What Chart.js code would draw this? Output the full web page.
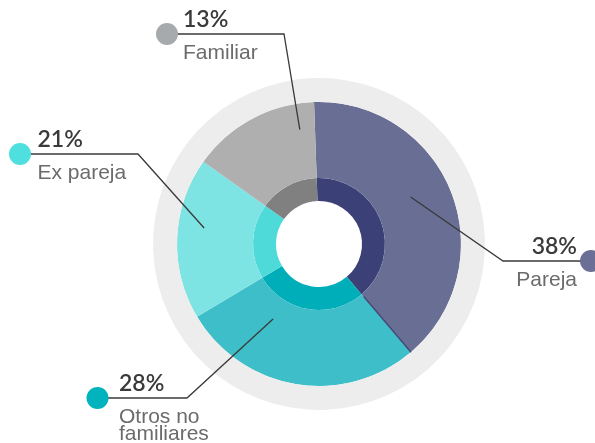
<!DOCTYPE html>
<html>
<head>
<meta charset="utf-8">
<script src="https://cdn.jsdelivr.net/npm/chart.js@4/dist/chart.umd.min.js"></script>
<style>
  html, body { margin: 0; padding: 0; background: #ffffff; }
  #wrap { position: relative; width: 595px; height: 443px; }
</style>
</head>
<body>
<div id="wrap"><canvas id="c" width="595" height="443"></canvas></div>
<script>
// ---- data ----
const categories = ['Pareja', 'Otros no familiares', 'Ex pareja', 'Familiar'];
// printed percentages
const values = [38, 28, 21, 13];
// slice shares as drawn in the picture (measured angles)
const sliceShares = [39.4, 27.6, 18.4, 14.6];

// ---- styles ----
const outerColors = ['#686e94', '#3ebec8', '#7ee3e3', '#afafaf'];
const innerColors = ['#3b4176', '#00aeb9', '#4fdada', '#808080'];
const dotColors   = ['#6b6f95', '#00b3bc', '#50dfdf', '#a7aaad'];
const ringColor = '#ededed';

// label layout (annotation positions, not data)
const labelLayout = [
  { frac: 0.457, r: 103, elbow: [503, 261], dot: [591, 261], textX: 577, align: 'right' },
  { frac: 0.721, r: 88,  elbow: [187, 398], dot: [97.5, 398], textX: 119, align: 'left' },
  { frac: 0.585, r: 116, elbow: [138, 154], dot: [20, 154],  textX: 37.5, align: 'left' },
  { frac: 0.857, r: 116, elbow: [284, 34],  dot: [167, 34],  textX: 183, align: 'left' }
];

function wrapText(ctx, text, maxW) {
  const words = text.split(' ');
  const lines = [];
  let cur = '';
  for (const w of words) {
    const t = cur ? cur + ' ' + w : w;
    if (ctx.measureText(t).width > maxW && cur) { lines.push(cur); cur = w; }
    else cur = t;
  }
  if (cur) lines.push(cur);
  return lines;
}

const labelPlugin = {
  id: 'labels',
  afterDatasetsDraw(chart) {
    const ctx = chart.ctx;
    const arcs = chart.getDatasetMeta(1).data;
    ctx.save();
    // thin dark edge at end of first segment
    const a0 = arcs[0];
    const ea = a0.endAngle - 0.004;
    ctx.strokeStyle = '#444a78';
    ctx.lineWidth = 1.5;
    ctx.beginPath();
    ctx.moveTo(a0.x + Math.cos(ea) * (a0.innerRadius + 3), a0.y + Math.sin(ea) * (a0.innerRadius + 3));
    ctx.lineTo(a0.x + Math.cos(ea) * a0.outerRadius, a0.y + Math.sin(ea) * a0.outerRadius);
    ctx.stroke();

    arcs.forEach((arc, i) => {
      const L = labelLayout[i];
      const ang = arc.startAngle + (arc.endAngle - arc.startAngle) * L.frac;
      const ax = arc.x + Math.cos(ang) * L.r;
      const ay = arc.y + Math.sin(ang) * L.r;
      ctx.strokeStyle = '#3a3a3a';
      ctx.lineWidth = 1.3;
      ctx.beginPath();
      ctx.moveTo(ax, ay);
      ctx.lineTo(L.elbow[0], L.elbow[1]);
      ctx.lineTo(L.dot[0], L.dot[1]);
      ctx.stroke();
      ctx.fillStyle = dotColors[i];
      ctx.beginPath();
      ctx.arc(L.dot[0], L.dot[1], 11, 0, Math.PI * 2);
      ctx.fill();

      ctx.textAlign = L.align;
      ctx.textBaseline = 'alphabetic';
      ctx.fillStyle = '#3a3a3a';
      ctx.font = '600 23px Lato';
      ctx.fillText(values[i] + '%', L.textX, L.dot[1] - 7);
      ctx.fillStyle = '#6b6b6b';
      ctx.font = '21px "Liberation Sans"';
      const lines = wrapText(ctx, categories[i], 100);
      lines.forEach((ln, k) => {
        ctx.fillText(ln, L.textX, L.dot[1] + 25 + k * 17);
      });
    });
    ctx.restore();
  }
};

new Chart(document.getElementById('c'), {
  type: 'doughnut',
  data: {
    labels: categories,
    datasets: [
      { data: [1], backgroundColor: [ringColor], weight: 24 },
      { data: sliceShares, backgroundColor: outerColors, weight: 76 },
      { data: sliceShares, backgroundColor: innerColors, weight: 23 }
    ]
  },
  options: {
    responsive: false,
    animation: false,
    cutout: 43,
    rotation: -2,
    borderWidth: 0,
    hoverOffset: 0,
    layout: { padding: { left: 153, top: 78, right: 110, bottom: 33 } },
    elements: { arc: { borderWidth: 0 } },
    plugins: { legend: { display: false }, tooltip: { enabled: false } },
    events: []
  },
  plugins: [labelPlugin]
});
</script>
</body>
</html>
